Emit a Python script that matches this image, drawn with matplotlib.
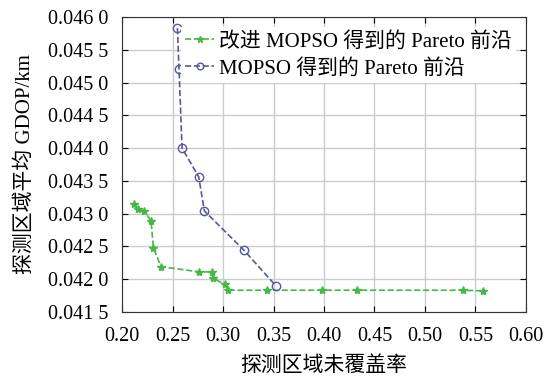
import numpy as np
import matplotlib as mpl
import matplotlib.pyplot as plt
from matplotlib.ticker import FuncFormatter

mpl.rcParams['font.family'] = ['Liberation Serif', 'Noto Sans CJK SC']
mpl.rcParams['axes.unicode_minus'] = False

# 改进 MOPSO 得到的 Pareto 前沿
x_imp = [0.212, 0.216, 0.222, 0.2287, 0.231, 0.2386, 0.2765, 0.2888, 0.2904,
         0.302, 0.3046, 0.3432, 0.3977, 0.4323, 0.5373, 0.5578]
y_imp = [0.04314, 0.04307, 0.04304, 0.04289, 0.04248, 0.04219, 0.04211, 0.04211,
         0.04201, 0.04192, 0.04183, 0.04183, 0.04183, 0.04183, 0.04183, 0.04182]

# MOPSO 得到的 Pareto 前沿
x_mo = [0.2548, 0.2564, 0.2594, 0.2759, 0.2815, 0.3208, 0.3522]
y_mo = [0.04583, 0.04521, 0.04400, 0.04356, 0.04304, 0.04244, 0.04190]

fig = plt.figure(figsize=(5.45, 3.78), dpi=100)
ax = fig.add_axes([0.224, 0.175, 0.741, 0.780])

ax.plot(x_imp, y_imp, '--', color='#45b845', marker='*', markersize=6,
        lw=1.2, label='改进 MOPSO 得到的 Pareto 前沿')
ax.plot(x_mo, y_mo, '--', color='#58589e', marker='o', markersize=6,
        markerfacecolor='none', lw=1.2, label='MOPSO 得到的 Pareto 前沿')

ax.set_xlim(0.2, 0.6)
ax.set_ylim(0.0415, 0.046)
ax.set_xticks(np.arange(0.2, 0.601, 0.05))
ax.set_yticks(np.arange(0.0415, 0.04601, 0.0005))
ax.xaxis.set_major_formatter(FuncFormatter(lambda v, p: f'{v:.2f}'))
ax.yaxis.set_major_formatter(FuncFormatter(lambda v, p: f'{v:.4f}'[:-1] + ' ' + f'{v:.4f}'[-1]))
ax.tick_params(direction='in', top=True, right=True, labelsize=14.5, length=4)
ax.tick_params(axis='x', pad=11)
ax.tick_params(axis='y', pad=10)
ax.grid(True, color='#cccccc', lw=1)
ax.set_axisbelow(True)
for s in ax.spines.values():
    s.set_color('#333333')

ax.set_xlabel('探测区域未覆盖率', fontsize=15, labelpad=7)
ax.set_ylabel('探测区域平均 GDOP/km', fontsize=15, labelpad=9)

leg = ax.legend(loc='upper right', fontsize=15, frameon=True, fancybox=False,
                edgecolor='none', framealpha=1, handlelength=1.4, handletextpad=0.2,
                borderpad=0.2, labelspacing=0.35, borderaxespad=0.5, markerscale=0.8)

fig.savefig('out.png', dpi=100)
